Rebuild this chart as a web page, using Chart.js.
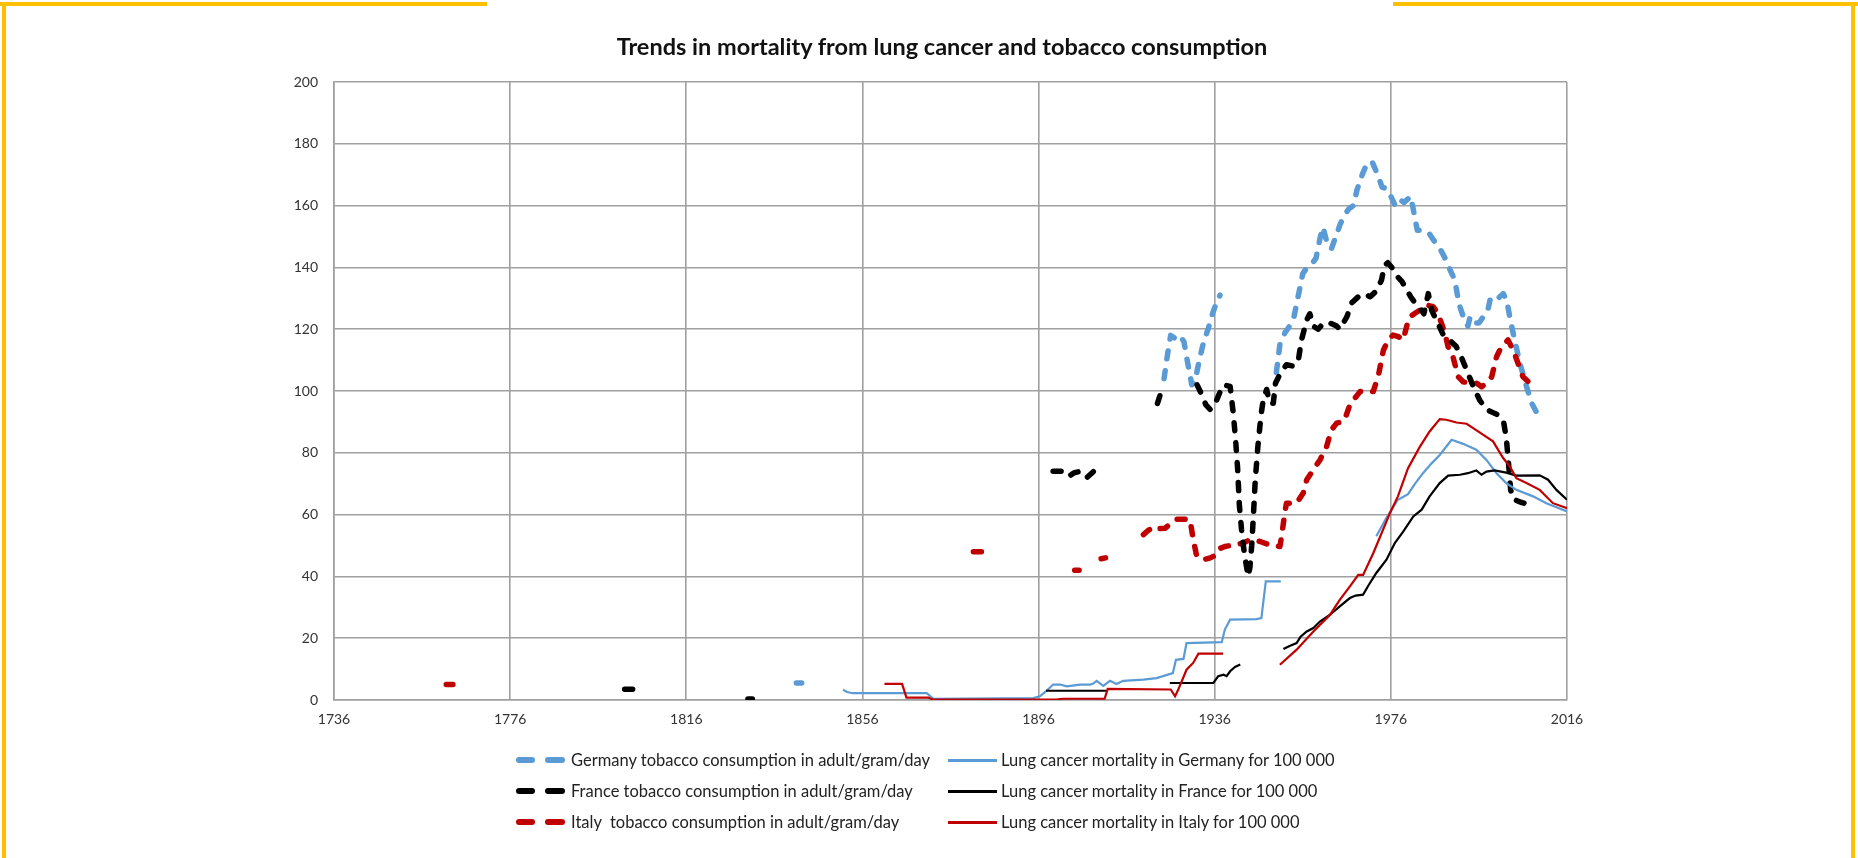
<!DOCTYPE html>
<html>
<head>
<meta charset="utf-8">
<script src="https://cdn.jsdelivr.net/npm/chart.js@4.4.1/dist/chart.umd.min.js"></script>
<style>
  html, body { margin: 0; padding: 0; background: #fff; }
  #wrap { position: relative; width: 1858px; height: 858px; overflow: hidden; font-family: Lato, 'Open Sans', sans-serif; }
  canvas { position: absolute; left: 0; top: 0; }
  .frame { position: absolute; background: #FFC000; }
  #title { position: absolute; left: 0; width: 1884px; top: 32px; text-align: center; font-weight: bold; font-size: 23.5px; color: #111; }
  .row { position: absolute; left: 0; height: 20px; font-size: 16.5px; color: #222; }
  .row span { position: absolute; white-space: pre; top: 0; line-height: 20px; }
  .dash { position: absolute; height: 6px; border-radius: 3px; top: 7px; }
  .line { position: absolute; height: 3px; top: 9px; left: 948px; width: 49px; }
</style>
</head>
<body>
<div id="wrap">
  <canvas id="chart" width="1858" height="858"></canvas>
  <div class="frame" style="left:0;top:2px;width:487px;height:4px"></div>
  <div class="frame" style="left:1393px;top:2px;width:465px;height:4px"></div>
  <div class="frame" style="left:2px;top:2px;width:4px;height:856px"></div>
  <div class="frame" style="left:1851px;top:2px;width:4px;height:856px"></div>
  <div id="title">Trends in mortality from lung cancer and tobacco consumption</div>
  <div id="legend"></div>
</div>
<script>
// Tobacco consumption, adult/gram/day  [year, value]; null = no data
const deTobacco = [
  [1841, 5.5], [1842.2, 5.5], [1843, null],
  [1924.5, 104], [1925.3, 112], [1926, 118], [1927, 117], [1928, 118], [1929, 116], [1930, 108],
  [1930.8, 102], [1931.5, 103], [1932.5, 110], [1933.5, 116], [1934.5, 120], [1935.5, 125],
  [1936.5, 129], [1937.2, 131], [1940, null],
  [1950, 106], [1950.8, 115], [1952, 119], [1953, 121], [1954, 124], [1955, 131], [1956, 138],
  [1957, 140], [1958, 141], [1959, 143], [1960, 150], [1960.6, 153], [1961.5, 148], [1962.5, 146],
  [1963.5, 150], [1964.5, 154], [1965.5, 157], [1966.5, 159], [1967.5, 160], [1968.3, 165],
  [1969.5, 170], [1970.7, 174], [1971.8, 174], [1973, 170], [1974, 166], [1975, 165.5], [1976, 163],
  [1977, 160], [1978, 162], [1979, 161], [1980.5, 163], [1981.2, 158], [1982, 152], [1983.3, 152],
  [1984.7, 151], [1985.6, 149], [1987, 146.5], [1988.3, 143], [1989.5, 139], [1990.5, 136],
  [1991.5, 128], [1992.7, 123], [1993.5, 121], [1994, 124], [1995, 122], [1996, 122], [1997, 124],
  [1998, 126], [1998.6, 130], [2000, 129.5], [2001.5, 131.5], [2002.3, 129.5], [2003, 124],
  [2003.8, 118.5], [2005.3, 109], [2006.8, 101.5], [2008, 96], [2009.5, 92]
];
const frTobacco = [
  [1802, 3.5], [1806, 3.5], [1807, null], [1830, 0.3], [1831, 0.3], [1832, null],
  [1899.3, 74], [1901, 74], [1902, 74], [1903, 72.5], [1904, 73.5], [1905.4, 74], [1907, 72],
  [1908.5, 74], [1909.5, 75], [1910.3, 76.5], [1912, null],
  [1923, 96], [1924, 100.5], [1926, null],
  [1932, 102], [1933, 99], [1934, 95.5], [1935, 94], [1936, 95.5], [1937, 99], [1938, 102],
  [1939.5, 101.5], [1940.2, 93], [1940.7, 85], [1941.2, 75], [1941.6, 63], [1942.1, 55],
  [1942.5, 50], [1943, 45], [1943.6, 40], [1944, 43], [1944.4, 50], [1944.8, 60], [1945.2, 71],
  [1945.8, 82], [1946.5, 92], [1947, 97], [1947.8, 100.5], [1948.5, 96], [1949.3, 96],
  [1949.8, 102.5], [1951, 106], [1952.3, 108.5], [1954, 108], [1955, 110], [1955.7, 116.5],
  [1956.9, 123], [1957.6, 125], [1958.4, 121], [1959.5, 120], [1960.7, 122], [1962.2, 122],
  [1963.7, 121], [1964.4, 120], [1966, 124], [1967.1, 128.5], [1968.6, 130.5], [1970.1, 131.5],
  [1971.3, 130.5], [1972.8, 132.5], [1973.9, 136], [1974.5, 140.5], [1975.3, 141.5],
  [1976.5, 139.5], [1977.5, 137], [1978.5, 135.5], [1979.5, 133], [1980.5, 130.5], [1981.5, 128.5],
  [1982.5, 127], [1983.5, 125], [1984.5, 131.5], [1985.3, 126], [1986.5, 122.5], [1987.8, 118.5],
  [1989.3, 116.5], [1990.8, 114.5], [1992, 111], [1993, 107.5], [1994, 104], [1995, 100.5],
  [1996.2, 97], [1997.7, 94], [1999.2, 93], [2000.7, 92], [2001.6, 90], [2002.2, 85],
  [2002.7, 77], [2003.2, 68], [2003.8, 65], [2005.5, 64], [2006.8, 63.5], [2008, 61.5]
];
const itTobacco = [
  [1761.5, 5], [1763, 5], [1764, null],
  [1881.2, 48], [1884.2, 48], [1885, null],
  [1904.2, 42], [1905.2, 42], [1906, null],
  [1910.2, 45.7], [1911.2, 46], [1912, null],
  [1919.8, 53.5], [1921, 55], [1922.4, 56.2], [1923.5, 55.5], [1924.7, 55.6], [1926, 57],
  [1927.4, 58.5], [1929, 58.5], [1930.4, 58.3], [1931, 53], [1931.9, 46.5], [1933.4, 45.4],
  [1935, 46], [1935.7, 46.5], [1936.4, 48.6], [1938.3, 49.7], [1940.6, 50.2], [1942.5, 50.8],
  [1944, 51.9], [1946.3, 51.3], [1948.5, 50.2], [1950.8, 49.7], [1951.2, 53], [1951.9, 60.5],
  [1952.3, 63.7], [1954.6, 63.7], [1956.1, 67], [1956.9, 71.3], [1958.4, 74.5], [1959.9, 77.7],
  [1961.4, 82], [1962.5, 87.4], [1963.7, 89.6], [1965.4, 90.3], [1966.7, 95.5], [1968, 98],
  [1969, 99.8], [1972, 99.8], [1973.2, 105.2], [1974.3, 113.2], [1975.4, 116.5], [1976.5, 118.1],
  [1977.7, 117.6], [1978.8, 116.5], [1979.6, 121], [1980.3, 124], [1981.4, 125.1], [1982.6, 126.2],
  [1984.1, 127.8], [1985.6, 127.3], [1986.7, 125.1], [1987.5, 121.9], [1988.3, 118.6], [1989, 114.3],
  [1989.8, 112.7], [1990.5, 108.9], [1991.3, 104.6], [1992.4, 103], [1994, 102.5], [1995.5, 102.5],
  [1996.6, 101.4], [1997.7, 102.5], [1998.9, 104.6], [2000, 111.1], [2001.1, 114.3], [2002.6, 116.5],
  [2003.8, 113.2], [2004.9, 108.9], [2006, 104.6], [2007.2, 103], [2008.3, 101.9], [2009, 101.5]
];

// Lung cancer mortality for 100 000  [year, value]
const deMortality = [
  [1851.6, 3.3], [1852.5, 2.6], [1853.8, 2.2], [1870.6, 2.2], [1872.1, 0.4], [1894.8, 0.6],
  [1896.3, 1.2], [1897.5, 2.6], [1898.2, 3.5], [1899.3, 5], [1900.9, 5], [1902.4, 4.4], [1905.4, 5],
  [1907.7, 5], [1908.4, 5.3], [1909.2, 6.2], [1910.7, 4.6], [1912.2, 6.2], [1913.7, 5.2],
  [1915.2, 6.2], [1919.8, 6.6], [1922.8, 7.1], [1926.5, 8.7], [1927.2, 13], [1928.9, 13.3],
  [1929.6, 18.4], [1937.6, 18.7], [1938.3, 22.8], [1939.5, 26], [1945.5, 26.2], [1946.6, 26.5],
  [1947.6, 38.4], [1951, 38.4], [1952, null],
  [1972.7, 53], [1975, 59], [1977.6, 64.8], [1979.9, 66.6], [1981.5, 70], [1983.3, 73.4],
  [1985.2, 76.5], [1987.1, 79.3], [1989.8, 84.2], [1992.4, 82.9], [1995.4, 81], [1997.7, 77.7],
  [2000, 73.4], [2002.2, 70.2], [2004.5, 68], [2008.3, 65.9], [2011.3, 63.7], [2016, 61]
];
const frMortality = [
  [1897.7, 3], [1911.5, 3], [1912, null],
  [1925.8, 5.5], [1935.7, 5.5], [1936.8, 7.7], [1938, 8.2], [1938.7, 7.7], [1939.5, 9.3],
  [1940.6, 10.7], [1941.8, 11.5], [1942.5, null],
  [1951.6, 16.5], [1953, 17.5], [1954.6, 18.4], [1955.5, 20.5], [1956.9, 22.2], [1958.4, 23.3],
  [1959.9, 25.4], [1962.2, 27.6], [1964.4, 30.3], [1966.7, 33], [1968, 33.8], [1969.7, 34.1],
  [1970.8, 36.8], [1972.7, 41.1], [1975, 45.4], [1976.9, 50.8], [1978.8, 54.5], [1981.1, 59.4],
  [1983, 61.6], [1984.8, 65.9], [1987.1, 70.2], [1989, 72.6], [1991.7, 72.9], [1993.5, 73.4],
  [1995.4, 74.3], [1996.6, 72.9], [1997.7, 73.9], [1999.6, 74.3], [2002.2, 73.6], [2004.5, 72.6],
  [2009.8, 72.7], [2011.7, 71.3], [2013.6, 68], [2016, 64.8]
];
const itMortality = [
  [1861, 5.2], [1865, 5.2], [1866, 0.8], [1871, 0.8], [1872, 0.1], [1900, 0.1], [1901.5, 0.4],
  [1911, 0.4], [1911.7, 3.6], [1926, 3.4], [1927, 1.2], [1927.7, 3.3], [1929.6, 9.8], [1931.1, 12],
  [1932.3, 15], [1937.9, 15], [1939, null],
  [1950.8, 11.4], [1954.6, 16.3], [1958.4, 22.2], [1962.2, 27.6], [1964.4, 32.4], [1966.7, 36.8],
  [1968.6, 40.5], [1969.7, 40.5], [1972, 47.5], [1975.8, 60.5], [1977.6, 65.9], [1979.9, 75],
  [1982.6, 82], [1984.8, 86.9], [1987.1, 90.9], [1988.6, 90.7], [1990.9, 89.8], [1993.2, 89.4],
  [1994.7, 88], [1997, 85.8], [1999.2, 83.7], [2001.5, 78.3], [2003, 75.6], [2004.5, 71.8],
  [2006.8, 70.2], [2009.8, 68], [2012.8, 63.7], [2016, 62.1]
];

const xTicks = [1736, 1776, 1816, 1856, 1896, 1936, 1976, 2016];

const BLUE = '#5B9BD5';
const BLACK = '#000000';
const RED = '#C00000';

const toPoints = (pairs) => pairs.map(([x, y]) => ({ x: x, y: y }));

const dashed = (label, pairs, color, order) => ({
  label: label,
  data: toPoints(pairs),
  borderColor: color,
  backgroundColor: color,
  borderWidth: 5.5,
  borderDash: [8, 12],
  borderCapStyle: 'round',
  borderJoinStyle: 'round',
  pointRadius: 0,
  tension: 0,
  spanGaps: false,
  order: order,
});

const solid = (label, pairs, color, order) => ({
  label: label,
  data: toPoints(pairs),
  borderColor: color,
  backgroundColor: color,
  borderWidth: 2.2,
  pointRadius: 0,
  tension: 0,
  spanGaps: false,
  order: order,
});

const datasets = [
  dashed('Germany tobacco consumption in adult/gram/day', deTobacco, BLUE, 6),
  solid('Lung cancer mortality in Germany for 100 000', deMortality, BLUE, 3),
  dashed('France tobacco consumption in adult/gram/day', frTobacco, BLACK, 4),
  solid('Lung cancer mortality in France for 100 000', frMortality, BLACK, 2),
  dashed('Italy  tobacco consumption in adult/gram/day', itTobacco, RED, 5),
  solid('Lung cancer mortality in Italy for 100 000', itMortality, RED, 1),
];

const gridColor = '#a0a0a0';
const tickFont = { family: 'Lato, sans-serif', size: 14 };

new Chart(document.getElementById('chart'), {
  type: 'line',
  data: { datasets: datasets },
  options: {
    responsive: false,
    animation: false,
    devicePixelRatio: 1,
    layout: { padding: { top: 82, left: 0, right: 291, bottom: 0 } },
    plugins: {
      legend: { display: false },
      title: { display: false },
      tooltip: { enabled: false },
    },
    scales: {
      x: {
        type: 'linear',
        min: xTicks[0],
        max: xTicks[xTicks.length - 1],
        afterBuildTicks: (scale) => {
          scale.ticks = xTicks.map((v) => ({ value: v }));
        },
        afterFit: (scale) => { scale.height = 158; },
        grid: { color: gridColor, lineWidth: 1.6, drawTicks: false },
        border: { color: gridColor, width: 1.6 },
        ticks: {
          padding: 11,
          color: '#333',
          font: tickFont,
          maxRotation: 0,
          callback: (v) => String(v),
        },
      },
      y: {
        min: 0,
        max: 200,
        afterFit: (scale) => { scale.width = 334; },
        grid: { color: gridColor, lineWidth: 1.6, drawTicks: false },
        border: { color: gridColor, width: 1.6 },
        ticks: {
          stepSize: 20,
          padding: 16,
          color: '#333',
          font: tickFont,
        },
      },
    },
  },
});

// legend, two columns, three rows
const legendRows = [
  [datasets[0], datasets[1]],
  [datasets[2], datasets[3]],
  [datasets[4], datasets[5]],
];
const legendTops = [750, 781, 812];
const legend = document.getElementById('legend');
legendRows.forEach((pair, i) => {
  const row = document.createElement('div');
  row.className = 'row';
  row.style.top = legendTops[i] + 'px';
  const c = pair[0].borderColor;
  row.innerHTML =
    '<div class="dash" style="left:516px;width:19px;background:' + c + '"></div>' +
    '<div class="dash" style="left:545px;width:20px;background:' + c + '"></div>' +
    '<span style="left:571px">' + pair[0].label + '</span>' +
    '<div class="line" style="background:' + pair[1].borderColor + '"></div>' +
    '<span style="left:1001px">' + pair[1].label + '</span>';
  legend.appendChild(row);
});
</script>
</body>
</html>
